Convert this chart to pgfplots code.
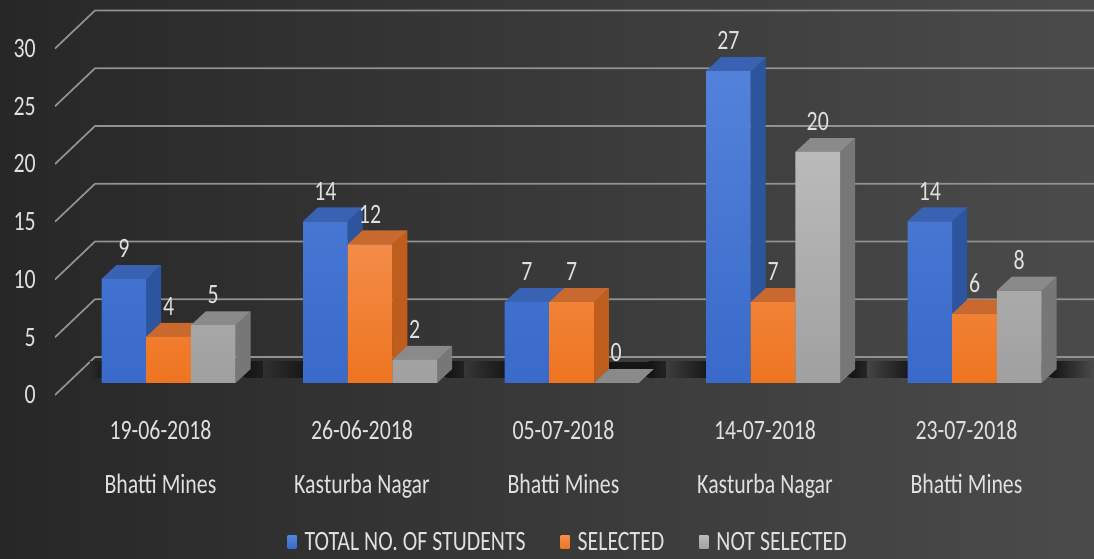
\documentclass[border=0pt]{standalone}
\usepackage{fontspec}
\setmainfont{Carlito}[FakeStretch=0.78]
\usepackage{pgfplots}
\pgfplotsset{compat=1.18}
\usepackage{pgfplotstable}
\definecolor{bgl}{HTML}{272727}
\definecolor{bgr}{HTML}{4B4B4B}
\definecolor{gridc}{HTML}{929292}
\definecolor{txt}{HTML}{E0E0E0}
\definecolor{shd}{HTML}{141414}
\definecolor{bfrontT}{HTML}{5282DA}
\definecolor{bfrontB}{HTML}{3A6ACA}
\definecolor{btop}{HTML}{3A62B3}
\definecolor{bside}{HTML}{2D559E}
\definecolor{ofrontT}{HTML}{F48C48}
\definecolor{ofrontB}{HTML}{EE7420}
\definecolor{otop}{HTML}{C9692D}
\definecolor{oside}{HTML}{BF5E1C}
\definecolor{gfrontT}{HTML}{BABABA}
\definecolor{gfrontB}{HTML}{A0A0A0}
\definecolor{gtop}{HTML}{8A8A8A}
\definecolor{gside}{HTML}{777777}
\newcommand\lf{\fontsize{28}{34}\selectfont}

\pgfplotstableread{
g total sel notsel
0 9 4 5
1 14 12 2
2 7 7 0
3 27 7 20
4 14 6 8
}\data

% side and top faces of one bar: #1 row, #2 series index, #3 column, #4 top colour, #5 side colour
\newcommand\faces[5]{%
  \pgfplotstablegetelem{#1}{#3}\of\data
  \pgfmathsetmacro\vv{\pgfplotsretval}%
  \pgfmathsetmacro\xl{101.5+201.5*#1+44.7*#2}%
  \pgfmathsetmacro\xr{\xl+44.7}%
  \pgfmathsetmacro\xlb{\xl+15}%
  \pgfmathsetmacro\xrb{\xr+15}%
  \pgfmathsetmacro\vb{\vv+1.21}%
  \edef\tmp{\noexpand\addplot[fill=#5, draw=none, forget plot] coordinates {(\xr,0) (\xrb,1.21) (\xrb,\vb) (\xr,\vv)};
    \noexpand\addplot[fill=#4, draw=none, forget plot] coordinates {(\xl,\vv) (\xlb,\vb) (\xrb,\vb) (\xr,\vv)};}%
  \tmp
}
% floor shadow under a group: #1 fade start, #2 solid start, #3 solid end, #4 fade end, #5 bg left, #6 bg right
\newcommand\shadow[6]{%
  \fill[left color=#5, right color=shd] (#1,0.5) rectangle (#2,1.85);
  \fill[shd] (#2,0.5) rectangle (#3,1.85);
  \fill[left color=shd, right color=#6] (#3,0.5) rectangle (#4,1.85);
}

\begin{document}
\begin{tikzpicture}
\fill[left color=bgl, right color=bgr] (-55pt,-164pt) rectangle (1039pt,395pt);
\begin{axis}[
  at={(0pt,0pt)}, anchor=south west,
  scale only axis, width=1039pt, height=395pt,
  xmin=55, xmax=1094, ymin=-1.04, ymax=33.16,
  axis line style={draw=none},
  major tick length=0pt,
  /pgf/number format/assume math mode=true,
  ytick={-1.04,3.96,8.96,13.96,18.96,23.96,28.96},
  yticklabels={0,5,10,15,20,25,30},
  xtick={160.5,362,563.5,765,966.5},
  xticklabels={{19-06-2018\\Bhatti Mines},{26-06-2018\\Kasturba Nagar},{05-07-2018\\Bhatti Mines},{14-07-2018\\Kasturba Nagar},{23-07-2018\\Bhatti Mines}},
  tick label style={text=txt, font=\lf},
  yticklabel style={anchor=east, inner sep=0pt, xshift=-19pt},
  xticklabel style={align=center, anchor=north, inner sep=0pt, yshift=-25pt, font=\fontsize{28}{54}\selectfont},
  every node near coord/.append style={font=\lf, text=txt, anchor=south, inner sep=0pt, yshift=21pt},
  legend style={at={(0.493,-0.372)}, anchor=center, draw=none, fill=none, legend columns=3,
    nodes={inner sep=0pt, text=txt, font=\lf},
    /tikz/every odd column/.append style={column sep=8pt},
    /tikz/every even column/.append style={column sep=35pt}},
  legend image code/.code={\fill[#1, draw=none] (0pt,-7pt) rectangle (9pt,6pt);},
]
% back wall and side wall gridlines
\addplot[gridc, line width=1.7pt, forget plot] coordinates {(55,-1.04) (95,2.25) (1094,2.25)};
\addplot[gridc, line width=1.7pt, forget plot] coordinates {(55,3.96) (95,7.25) (1094,7.25)};
\addplot[gridc, line width=1.7pt, forget plot] coordinates {(55,8.96) (95,12.25) (1094,12.25)};
\addplot[gridc, line width=1.7pt, forget plot] coordinates {(55,13.96) (95,17.25) (1094,17.25)};
\addplot[gridc, line width=1.7pt, forget plot] coordinates {(55,18.96) (95,22.25) (1094,22.25)};
\addplot[gridc, line width=1.7pt, forget plot] coordinates {(55,23.96) (95,27.25) (1094,27.25)};
\addplot[gridc, line width=1.7pt, forget plot] coordinates {(55,28.96) (95,32.25) (1094,32.25)};
% floor shadows
\shadow{90}{106.5}{245.6}{290.6}{black!83.6}{black!81}
\shadow{263}{308}{447.1}{492.1}{black!81.3}{black!78.4}
\shadow{464.5}{509.5}{648.6}{693.6}{black!78.7}{black!75.8}
\shadow{666}{711}{850.1}{895.1}{black!76.1}{black!73.1}
\shadow{867.5}{912.5}{1051.6}{1094}{black!73.5}{black!70.6}
% TOTAL
\pgfplotsinvokeforeach{0,...,4}{\faces{#1}{0}{total}{btop}{bside}}
\addplot[ybar, bar width=44.7, bar shift=0, draw=none, top color=bfrontT, bottom color=bfrontB, nodes near coords]
  table[x expr={123.85+201.5*\thisrow{g}}, y=total]{\data};
\addlegendentry{TOTAL NO. OF STUDENTS}
% SELECTED
\pgfplotsinvokeforeach{0,...,4}{\faces{#1}{1}{sel}{otop}{oside}}
\addplot[ybar, bar width=44.7, bar shift=0, draw=none, top color=ofrontT, bottom color=ofrontB, nodes near coords]
  table[x expr={168.55+201.5*\thisrow{g}}, y=sel]{\data};
\addlegendentry{SELECTED}
% NOT SELECTED
\pgfplotsinvokeforeach{0,...,4}{\faces{#1}{2}{notsel}{gtop}{gside}}
\addplot[ybar, bar width=44.7, bar shift=0, draw=none, top color=gfrontT, bottom color=gfrontB, nodes near coords]
  table[x expr={213.25+201.5*\thisrow{g}}, y=notsel]{\data};
\addlegendentry{NOT SELECTED}
\end{axis}
\pgfresetboundingbox
\path[use as bounding box] (-55pt,-164pt) rectangle (1039pt,395pt);
\end{tikzpicture}
\end{document}
